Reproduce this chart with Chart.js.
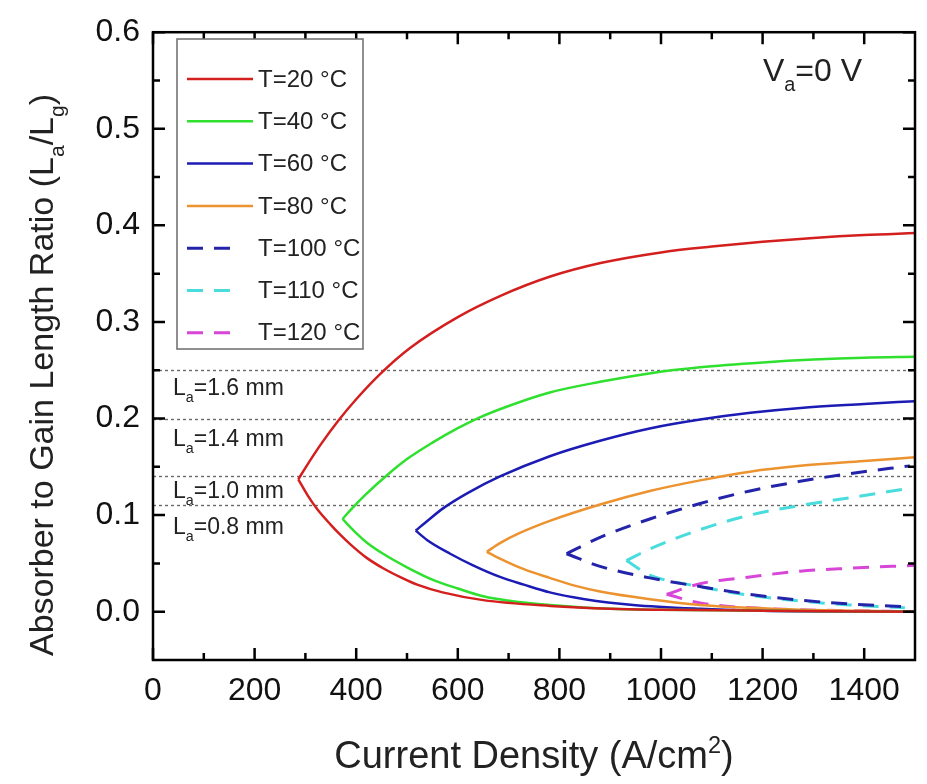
<!DOCTYPE html>
<html>
<head>
<meta charset="utf-8">
<script src="https://cdn.jsdelivr.net/npm/chart.js@4.4.0/dist/chart.umd.min.js"></script>
<style>
  html, body { margin: 0; padding: 0; background: #fff; }
</style>
</head>
<body>
<canvas id="chart" width="927" height="784"></canvas>
<script>
// Curve data: [current density, La/Lg], tip first, then out to the right
var t20Upper = [[286,0.137],[300,0.149],[330,0.173],[365,0.198],[400,0.220],[447,0.246],[506,0.273],[600,0.305],[684,0.327],[782,0.347],[881,0.361],[1000,0.372],[1100,0.378],[1200,0.383],[1300,0.387],[1400,0.390],[1500,0.392]];
var t20Lower = [[286,0.137],[305,0.120],[325,0.105],[350,0.090],[370,0.079],[388,0.070],[420,0.056],[453,0.045],[490,0.035],[520,0.028],[570,0.020],[650,0.012],[782,0.006],[900,0.003],[1000,0.002],[1200,0.001],[1500,0.000]];
var t40Upper = [[373,0.096],[390,0.106],[420,0.122],[460,0.141],[500,0.158],[550,0.175],[600,0.190],[638,0.200],[700,0.213],[781,0.227],[880,0.238],[980,0.247],[1077,0.253],[1200,0.258],[1300,0.261],[1400,0.263],[1500,0.264]];
var t40Lower = [[373,0.096],[395,0.084],[420,0.072],[453,0.060],[500,0.046],[551,0.033],[600,0.024],[650,0.016],[720,0.010],[781,0.007],[900,0.003],[1000,0.002],[1200,0.001],[1500,0.000]];
var t60Upper = [[517,0.084],[540,0.094],[571,0.107],[620,0.123],[683,0.140],[781,0.161],[880,0.177],[980,0.190],[1077,0.199],[1176,0.206],[1275,0.211],[1400,0.215],[1500,0.218]];
var t60Lower = [[517,0.084],[540,0.074],[585,0.060],[630,0.048],[683,0.036],[730,0.028],[781,0.020],[850,0.013],[945,0.007],[1077,0.003],[1200,0.001],[1500,0.000]];
var t80Upper = [[657,0.062],[683,0.071],[720,0.081],[781,0.094],[880,0.111],[978,0.125],[1077,0.136],[1175,0.145],[1274,0.151],[1400,0.156],[1500,0.160]];
var t80Lower = [[657,0.062],[683,0.055],[730,0.044],[781,0.035],[830,0.027],[880,0.021],[978,0.013],[1077,0.007],[1175,0.004],[1274,0.002],[1400,0.001],[1500,0.000]];
var t100Upper = [[814,0.060],[880,0.077],[978,0.096],[1077,0.112],[1175,0.125],[1274,0.135],[1372,0.143],[1490,0.151]];
var t100Lower = [[814,0.060],[880,0.047],[978,0.035],[1077,0.026],[1175,0.018],[1274,0.012],[1372,0.008],[1490,0.005]];
var t110Upper = [[932,0.053],[978,0.065],[1077,0.085],[1175,0.100],[1274,0.110],[1372,0.118],[1480,0.127]];
var t110Lower = [[932,0.053],[978,0.038],[1077,0.026],[1175,0.017],[1274,0.011],[1372,0.007],[1480,0.004]];
var t120Upper = [[1011,0.018],[1077,0.029],[1175,0.036],[1274,0.042],[1372,0.045],[1500,0.048]];
var t120Lower = [[1011,0.018],[1077,0.009],[1175,0.004],[1274,0.002],[1372,0.001],[1500,0.000]];

var seriesLabels = ['T=20 °C', 'T=40 °C', 'T=60 °C', 'T=80 °C', 'T=100 °C', 'T=110 °C', 'T=120 °C'];
var seriesUpper = [t20Upper, t40Upper, t60Upper, t80Upper, t100Upper, t110Upper, t120Upper];
var seriesLower = [t20Lower, t40Lower, t60Lower, t80Lower, t100Lower, t110Lower, t120Lower];
var seriesColors = ['#d41f1f', '#2fe02f', '#1c1cb4', '#ec922e', '#2424aa', '#48dcdc', '#d846d8'];
var seriesDashed = [false, false, false, false, true, true, true];

// Absorber lengths marked with dotted lines
var markLabels = ['1.6', '1.4', '1.0', '0.8'];
var markValues = [0.25, 0.20, 0.14, 0.11];

var xTickValues = [0, 200, 400, 600, 800, 1000, 1200, 1400];
var xMinorValues = [100, 300, 500, 700, 900, 1100, 1300];
var yTickValues = [0, 0.1, 0.2, 0.3, 0.4, 0.5, 0.6];
var yMinorValues = [0.05, 0.15, 0.25, 0.35, 0.45, 0.55];

var FONT = '"Liberation Sans", Arial, Helvetica, sans-serif';
var DASH = [16, 11];

function toPoints(pairs) {
    return pairs.map(function(p) { return {x: p[0], y: p[1]}; });
}

// Upper and lower branch joined by a gap, so the tip stays sharp
var datasets = seriesLabels.map(function(label, i) {
    return {
        label: label,
        data: toPoints(seriesUpper[i]).concat([{x: null, y: null}], toPoints(seriesLower[i])),
        borderColor: seriesColors[i],
        backgroundColor: seriesColors[i],
        borderWidth: seriesDashed[i] ? 3 : 2.5,
        borderDash: seriesDashed[i] ? DASH : [],
        showLine: true,
        pointRadius: 0,
        cubicInterpolationMode: 'monotone',
        spanGaps: false
    };
});

/**
 * Draw text with sub / superscript pieces.
 * parts: [[text, mode]], mode 0 normal, -1 sub, 1 sup
 */
function drawRich(ctx, parts, x, y, size, align) {
    var small = size * 0.62;
    var total = 0;
    parts.forEach(function(p) {
        ctx.font = (p[1] ? small : size) + 'px ' + FONT;
        total += ctx.measureText(p[0]).width;
    });
    var cx = align === 'center' ? x - total / 2 : x;
    ctx.textAlign = 'left';
    ctx.textBaseline = 'alphabetic';
    parts.forEach(function(p) {
        var s = p[1] ? small : size;
        ctx.font = s + 'px ' + FONT;
        var dy = p[1] === -1 ? size * 0.32 : (p[1] === 1 ? -size * 0.4 : 0);
        ctx.fillText(p[0], cx, y + dy);
        cx += ctx.measureText(p[0]).width;
    });
}

var decorPlugin = {
    id: 'decor',
    beforeDatasetsDraw: function(chart) {
        var ctx = chart.ctx;
        var area = chart.chartArea;
        var ys = chart.scales.y;
        ctx.save();
        // Dotted reference lines and their labels
        ctx.strokeStyle = '#6a6a6a';
        ctx.lineWidth = 1.4;
        ctx.setLineDash([3, 3]);
        var offsets = [16, 18, 13, 20];
        markValues.forEach(function(v, i) {
            var py = Math.round(ys.getPixelForValue(v)) + 0.5;
            ctx.beginPath();
            ctx.moveTo(area.left, py);
            ctx.lineTo(area.right, py);
            ctx.stroke();
            ctx.fillStyle = '#222';
            drawRich(ctx, [['L', 0], ['a', -1], ['=' + markLabels[i] + ' mm', 0]],
                area.left + 20, py + offsets[i] + 8, 23, 'left');
        });
        ctx.restore();
    },
    afterDraw: function(chart) {
        var ctx = chart.ctx;
        var area = chart.chartArea;
        var xs = chart.scales.x;
        var ys = chart.scales.y;
        ctx.save();
        ctx.setLineDash([]);

        // Frame
        ctx.strokeStyle = '#000';
        ctx.lineWidth = 2.5;
        ctx.strokeRect(area.left, area.top, area.right - area.left, area.bottom - area.top);

        // Inward ticks on all four sides
        ctx.lineWidth = 2.5;
        function xTick(v, len) {
            var px = xs.getPixelForValue(v);
            ctx.beginPath();
            ctx.moveTo(px, area.bottom); ctx.lineTo(px, area.bottom - len);
            ctx.moveTo(px, area.top); ctx.lineTo(px, area.top + len);
            ctx.stroke();
        }
        function yTick(v, len) {
            var py = ys.getPixelForValue(v);
            ctx.beginPath();
            ctx.moveTo(area.left, py); ctx.lineTo(area.left + len, py);
            ctx.moveTo(area.right, py); ctx.lineTo(area.right - len, py);
            ctx.stroke();
        }
        xTickValues.forEach(function(v) { xTick(v, 12); });
        xMinorValues.forEach(function(v) { xTick(v, 7); });
        yTickValues.forEach(function(v) { yTick(v, 12); });
        yMinorValues.forEach(function(v) { yTick(v, 7); });

        // Legend box
        var bx = 177, by = 39, bw = 186, bh = 310;
        ctx.fillStyle = '#fff';
        ctx.fillRect(bx, by, bw, bh);
        ctx.strokeStyle = '#6b6b6b';
        ctx.lineWidth = 1.5;
        ctx.strokeRect(bx, by, bw, bh);
        chart.data.datasets.forEach(function(ds, i) {
            var cy = by + 40 + i * 42.3;
            ctx.strokeStyle = ds.borderColor;
            ctx.lineWidth = ds.borderWidth;
            ctx.setLineDash(ds.borderDash);
            ctx.beginPath();
            ctx.moveTo(bx + 10, cy);
            ctx.lineTo(bx + (ds.borderDash.length ? 54 : 76), cy);
            ctx.stroke();
            ctx.setLineDash([]);
            ctx.fillStyle = '#222';
            ctx.font = '24px ' + FONT;
            ctx.textAlign = 'left';
            ctx.textBaseline = 'middle';
            ctx.fillText(ds.label, bx + 81, cy + 1);
        });

        // Bias label
        ctx.fillStyle = '#222';
        drawRich(ctx, [['V', 0], ['a', -1], ['=0 V', 0]], 763, 81, 32, 'left');

        // Axis titles
        drawRich(ctx, [['Current Density (A/cm', 0], ['2', 1], [')', 0]],
            (area.left + area.right) / 2, 768, 38, 'center');
        ctx.translate(53, 375);
        ctx.rotate(-Math.PI / 2);
        drawRich(ctx, [['Absorber to Gain Length Ratio (L', 0], ['a', -1], ['/L', 0], ['g', -1], [')', 0]],
            0, 0, 34, 'center');
        ctx.restore();
    }
};

new Chart(document.getElementById('chart'), {
    type: 'scatter',
    data: {datasets: datasets},
    options: {
        responsive: false,
        animation: false,
        devicePixelRatio: 1,
        layout: {padding: {left: 0, right: 12, top: 23, bottom: 0}},
        plugins: {legend: {display: false}, tooltip: {enabled: false}},
        scales: {
            x: {
                type: 'linear',
                min: 0,
                max: 1500,
                grid: {display: false, drawTicks: false},
                border: {display: false},
                afterBuildTicks: function(axis) {
                    axis.ticks = xTickValues.map(function(v) { return {value: v}; });
                },
                afterFit: function(scale) { scale.height = 124; },
                ticks: {
                    font: {family: FONT, size: 32},
                    color: '#111',
                    padding: 12,
                    maxRotation: 0,
                    autoSkip: false,
                    callback: function(v) { return String(v); }
                }
            },
            y: {
                type: 'linear',
                min: -0.05,
                max: 0.6,
                grid: {display: false, drawTicks: false},
                border: {display: false},
                afterBuildTicks: function(axis) {
                    axis.ticks = yTickValues.map(function(v) { return {value: v}; });
                },
                afterFit: function(scale) { scale.width = 153; },
                ticks: {
                    font: {family: FONT, size: 32},
                    color: '#111',
                    padding: 13,
                    callback: function(v) { return v.toFixed(1); }
                }
            }
        }
    },
    plugins: [decorPlugin]
});
</script>
</body>
</html>
